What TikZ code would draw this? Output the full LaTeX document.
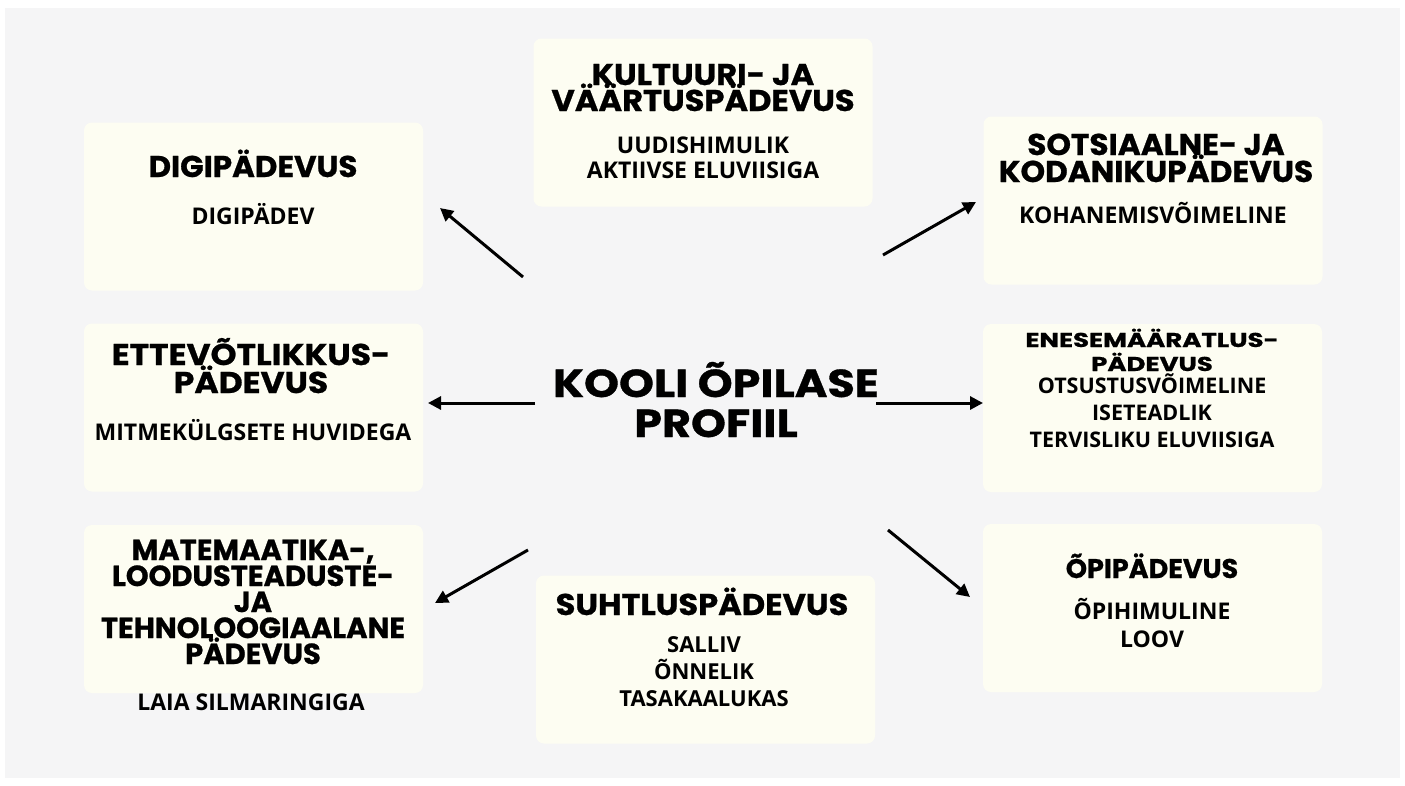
\documentclass[tikz,border=0pt]{standalone}
\usepackage{fontspec}
\usepackage{graphicx}
\usetikzlibrary{arrows.meta}
\newfontfamily\headfont{Poppins}[BoldFeatures={FakeBold=0.8}]
\newfontfamily\bodyfont{Open Sans}
\definecolor{bggray}{RGB}{245,245,246}
\definecolor{cream}{RGB}{253,253,242}
\newcommand{\stack}[2]{\vtop{\baselineskip=#1\lineskiplimit=-100pt\lineskip=0pt\halign{\hfil##\hfil\cr#2\crcr}}}
\newcommand{\sx}[2]{\scalebox{#1}[1]{#2}}
\tikzset{
  box/.style={fill=cream, rounded corners=8pt, inner sep=0pt, outer sep=0pt, minimum width=339pt, minimum height=168pt},
  head/.style={anchor=base, inner sep=0pt, font=\headfont\bfseries\fontsize{30}{30}\selectfont},
  body/.style={anchor=base, inner sep=0pt, font=\bodyfont\bfseries\fontsize{23}{23}\selectfont},
  title/.style={anchor=base, inner sep=0pt, font=\headfont\bfseries\fontsize{39}{39}\selectfont},
  arr/.style={line width=3pt, -{Triangle[length=13pt,width=13pt]}}
}
\begin{document}
\begin{tikzpicture}[x=1pt,y=-1pt]
\useasboundingbox (0,0) rectangle (1405,785);
\fill[white] (0,0) rectangle (1405,785);
\fill[bggray] (5,8) rectangle (1400,778);

% boxes
\node[box] (digi)  at (253.5,206.5) {};
\node[box] (kult)  at (703,122.5) {};
\node[box] (sots)  at (1153,200.5) {};
\node[box] (ettev) at (253.5,407.5) {};
\node[box] (enese) at (1152.5,408) {};
\node[box] (matem) at (253.5,609) {};
\node[box] (suht)  at (705.5,659.5) {};
\node[box] (opi)   at (1152.5,608) {};

% title
\node[title] (t) at (716,397) {\sx{1.14}{\stack{40pt}{KOOLI ÕPILASE\cr PROFIIL}}};

% texts
\node[head] (digih) at (253,177) {\sx{1.03}{DIGIPÄDEVUS}};
\node[body] (digib) at (253,224) {DIGIPÄDEV};

\node[head] (kulth) at (703,85) {\sx{1.07}{\stack{26pt}{KULTUURI- JA\cr VÄÄRTUSPÄDEVUS}}};
\node[body] (kultb) at (703,153) {\stack{25pt}{UUDISHIMULIK\cr AKTIIVSE ELUVIISIGA}};

\node[head] (sotsh) at (1156,155) {\sx{1.04}{\stack{27pt}{SOTSIAALNE- JA\cr KODANIKUPÄDEVUS}}};
\node[body] (sotsb) at (1153,223) {KOHANEMISVÕIMELINE};

\node[head] (ettevh) at (251,365) {\sx{1.1}{\stack{28pt}{ETTEVÕTLIKKUS-\cr PÄDEVUS}}};
\node[body] (ettevb) at (253,440) {MITMEKÜLGSETE HUVIDEGA};

\node[head, font=\headfont\bfseries\fontsize{20}{20}\selectfont] (eneseh) at (1152,347) {\sx{1.3}{\stack{24pt}{ENESEMÄÄRATLUS-\cr PÄDEVUS}}};
\node[body, font=\bodyfont\bfseries\fontsize{21.5}{21.5}\selectfont] (eneseb) at (1152,393) {\stack{27pt}{OTSUSTUSVÕIMELINE\cr ISETEADLIK\cr TERVISLIKU ELUVIISIGA}};

\node[head, font=\headfont\bfseries\fontsize{29}{29}\selectfont] (matemh) at (253,560) {\stack{26pt}{MATEMAATIKA-,\cr LOODUSTEADUSTE-\cr JA\cr TEHNOLOOGIAALANE\cr PÄDEVUS}};
\node[body] (matemb) at (251,710) {LAIA SILMARINGIGA};

\node[head] (suhth) at (702,615) {\sx{1.07}{SUHTLUSPÄDEVUS}};
\node[body, font=\bodyfont\bfseries\fontsize{22}{22}\selectfont] (suhtb) at (704,652) {\stack{27pt}{SALLIV\cr ÕNNELIK\cr TASAKAALUKAS}};

\node[head, font=\headfont\bfseries\fontsize{27}{27}\selectfont] (opih) at (1152,578) {ÕPIPÄDEVUS};
\node[body] (opib) at (1152,619) {\stack{28pt}{ÕPIHIMULINE\cr LOOV}};

% arrows
\coordinate (s1) at (523,277); \coordinate (e1) at (440,208);
\coordinate (s2) at (883,255); \coordinate (e2) at (976,202);
\coordinate (s3) at (535,403); \coordinate (e3) at (428,403);
\coordinate (s4) at (876,403); \coordinate (e4) at (983,403);
\coordinate (s5) at (528,550); \coordinate (e5) at (435,603);
\coordinate (s6) at (888,530); \coordinate (e6) at (970,597);
\draw[arr] (s1) -- (e1);
\draw[arr] (s2) -- (e2);
\draw[arr] (s3) -- (e3);
\draw[arr] (s4) -- (e4);
\draw[arr] (s5) -- (e5);
\draw[arr] (s6) -- (e6);
\end{tikzpicture}
\end{document}
